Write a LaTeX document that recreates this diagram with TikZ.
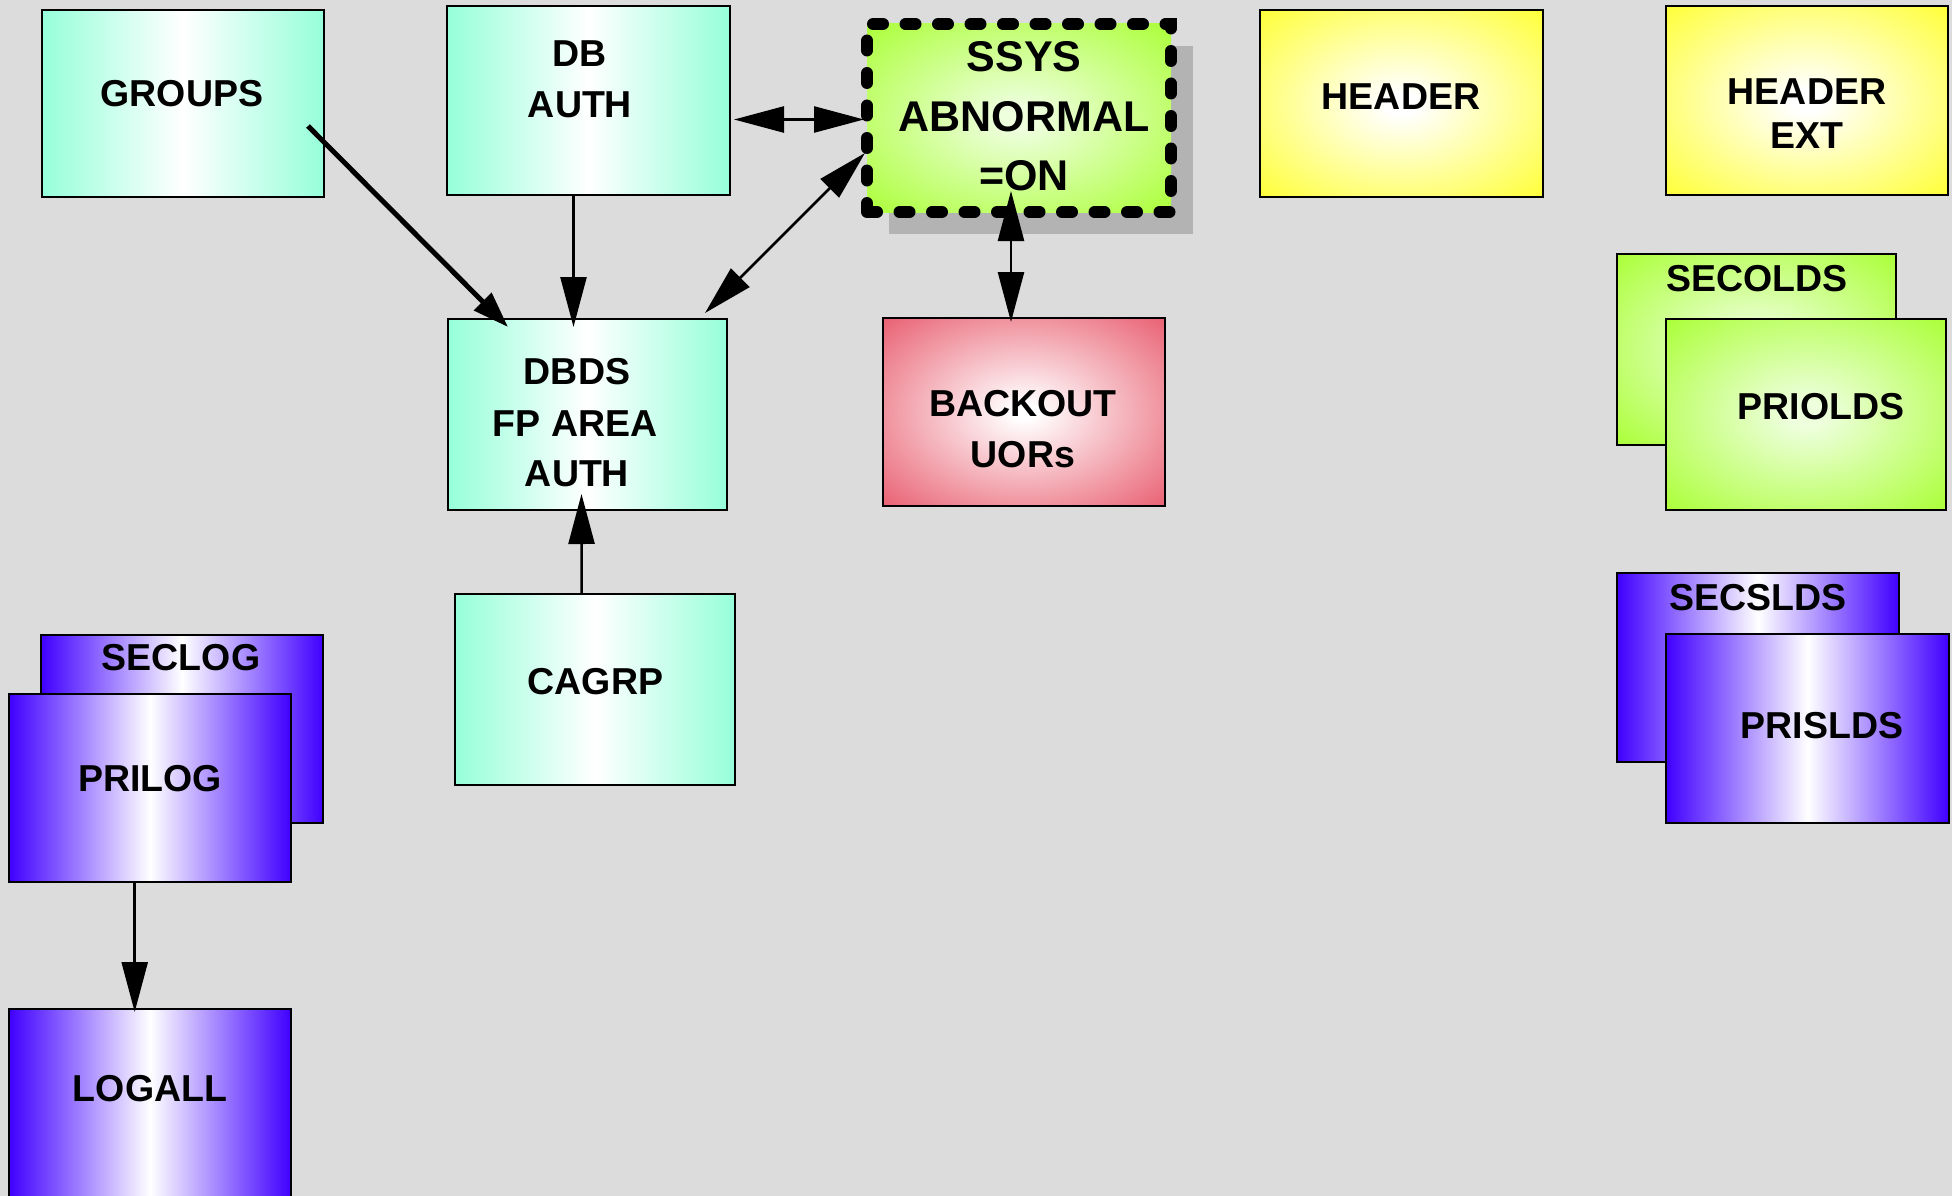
\documentclass[tikz,border=0pt]{standalone}
\usepackage{fontspec}
\setmainfont{Liberation Sans}
\usetikzlibrary{arrows.meta,calc,shadows}
\definecolor{bg}{RGB}{220,220,220}
\definecolor{aq}{RGB}{150,255,218}
\definecolor{yel}{RGB}{255,255,40}
\definecolor{lime}{RGB}{168,255,48}
\definecolor{limec}{RGB}{238,255,222}
\definecolor{rosa}{RGB}{230,75,95}
\definecolor{vio}{RGB}{64,0,255}
\definecolor{shadowgray}{RGB}{179,179,179}
\pgfdeclareradialshading{softyel}{\pgfpoint{0bp}{0bp}}{color(0bp)=(white); color(3bp)=(white); color(38bp)=(yel); color(50bp)=(yel)}
\pgfdeclareradialshading{softgrn}{\pgfpoint{0bp}{0bp}}{color(0bp)=(limec); color(3bp)=(limec); color(37bp)=(lime); color(50bp)=(lime)}
\pgfdeclareradialshading{softred}{\pgfpoint{0bp}{0bp}}{color(0bp)=(white); color(2bp)=(white); color(40bp)=(rosa); color(50bp)=(rosa)}
\begin{document}
\begin{tikzpicture}[x=1pt,y=-1pt,
  box/.style={draw=black,line width=2.6pt,rectangle,inner sep=0pt,outer sep=0pt,
              minimum width=282pt,minimum height=189pt},
  aqbox/.style={box,left color=aq,right color=aq,middle color=white},
  blbox/.style={box,left color=vio,right color=vio,middle color=white},
  yebox/.style={box,shade,shading=softyel},
  grbox/.style={box,shade,shading=softgrn},
  rdbox/.style={box,shade,shading=softred},
  lbl/.style={inner sep=0pt,outer sep=0pt,anchor=base,font=\fontsize{37.5}{45}\selectfont\bfseries},
  biglbl/.style={lbl,font=\fontsize{43}{50}\selectfont\bfseries},
  tipA/.tip={Triangle[length=50pt,width=26pt]},
  tipB/.tip={Triangle[length=36pt,width=24pt]},
  con/.style={line width=2.5pt,-tipA},
  dcon/.style={line width=2.5pt,tipA-tipA},
  thickcon/.style={line width=5pt,-tipB}]

\useasboundingbox (0,0) rectangle (1952,1196);
\fill[bg] (0,0) rectangle (1952,1196);
\clip (0,0) rectangle (1952,1196);

% boxes
\node[aqbox,minimum width=282pt,minimum height=187pt] (groups) at (183,103.5) {};
\node[aqbox,minimum width=283pt,minimum height=189pt] (dbauth) at (588.5,100.5) {};
\node[aqbox,minimum width=279pt,minimum height=191pt] (dbds) at (587.5,414.5) {};
\node[aqbox,minimum width=280pt,minimum height=191pt] (cagrp) at (595,689.5) {};

\node[grbox,minimum width=304pt,minimum height=188pt,line width=12pt,line cap=round,
      dash pattern=on 10pt off 22.5pt,
      general shadow={fill=shadowgray,shadow xshift=22pt,shadow yshift=-22pt}]
      (ssys) at (1019,118) {};
\node[rdbox,minimum width=282pt,minimum height=188pt] (backout) at (1024,412) {};

\node[yebox,minimum width=283pt,minimum height=187pt] (header) at (1401.5,103.5) {};
\node[yebox,minimum width=282pt,minimum height=189pt] (headerext) at (1807,100.5) {};

\node[grbox,minimum width=279pt,minimum height=191pt] (secolds) at (1756.5,349.5) {};
\node[grbox,minimum width=280pt,minimum height=191pt] (priolds) at (1806,414.5) {};

\node[blbox,minimum width=282pt,minimum height=189pt] (secslds) at (1758,667.5) {};
\node[blbox,minimum width=283pt,minimum height=189pt] (prislds) at (1807.5,728.5) {};

\node[blbox,minimum width=282pt,minimum height=188pt] (seclog) at (182,729) {};
\node[blbox,minimum width=282pt,minimum height=188pt] (prilog) at (150,788) {};
\node[blbox,minimum width=282pt,minimum height=190pt] (logall) at (150,1104) {};

% labels
\node[lbl] (tgroups) at (182,107) {GROUPS};
\node[lbl] (tdb1) at (580,67) {DB};
\node[lbl] (tdb2) at (580,118) {AUTH};
\node[lbl] (tdbds1) at (577,384.5) {DBDS};
\node[lbl] (tdbds2) at (575,436.5) {FP AREA};
\node[lbl] (tdbds3) at (577,486.5) {AUTH};
\node[lbl] (tcagrp) at (595.5,694.5) {CAGRP};
\node[biglbl] (tssys1) at (1024,72) {SSYS};
\node[biglbl] (tssys2) at (1024,132) {ABNORMAL};
\node[biglbl] (tssys3) at (1024,190) {=ON};
\node[lbl] (tback1) at (1023,416.5) {BACKOUT};
\node[lbl] (tback2) at (1023,467) {UORs};
\node[lbl] (theader) at (1401,109.5) {HEADER};
\node[lbl] (thext1) at (1807,105) {HEADER};
\node[lbl] (thext2) at (1807,148.5) {EXT};
\node[lbl] (tsecolds) at (1757,291) {SECOLDS};
\node[lbl] (tpriolds) at (1821,419.5) {PRIOLDS};
\node[lbl] (tsecslds) at (1758,610) {SECSLDS};
\node[lbl] (tprislds) at (1822,738) {PRISLDS};
\node[lbl] (tseclog) at (181,670.5) {SECLOG};
\node[lbl] (tprilog) at (150,791) {PRILOG};
\node[lbl] (tlogall) at (150,1101.5) {LOGALL};

% connectors
\draw[thickcon] ($(groups.east)+(-16,22.5)$) -- ($(dbds.north)+(-79.5,8)$);
\draw[con] ($(dbauth.south)+(-15,0)$) -- ($(dbds.north)+(-14,8)$);
\draw[dcon] ($(dbds.north east)+(-22,-6)$) -- ($(ssys.west)+(-2,35)$);
\draw[dcon] ($(dbauth.east)+(4,19)$) -- ($(ssys.west)+(-3,1.5)$);
\draw[dcon] ($(ssys.south)+(-8,-21)$) -- ($(backout.north)+(-13,4)$);
\draw[con] ($(cagrp.north)+(-13.4,0)$) -- ($(dbds.south)+(-6,-16)$);
\draw[con] ($(prilog.south)+(-15.3,0)$) -- ($(logall.north)+(-15.3,3)$);
\end{tikzpicture}
\end{document}
